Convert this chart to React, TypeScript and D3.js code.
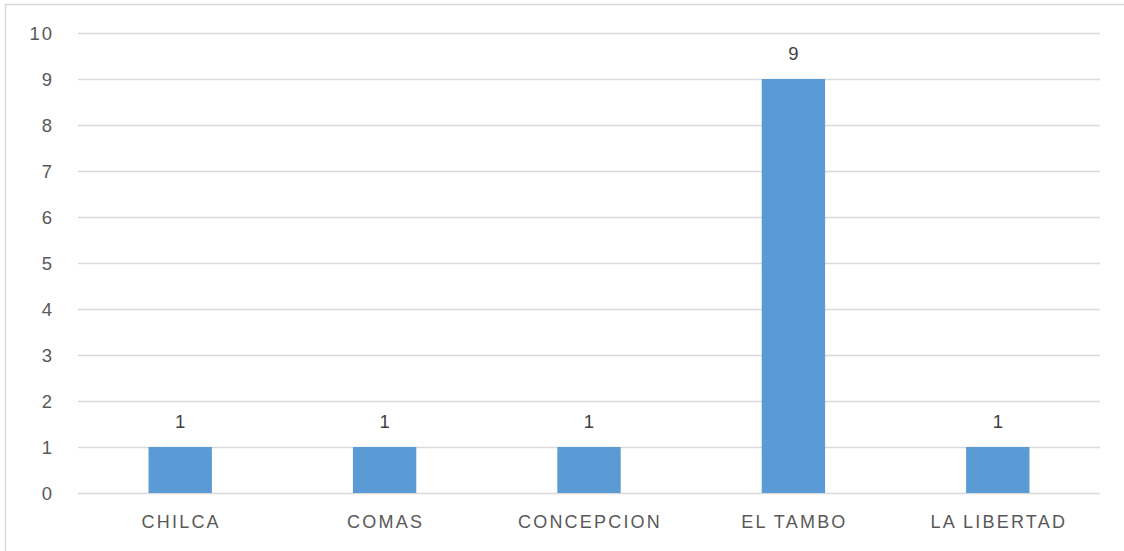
import { useEffect, useRef } from "react";
import * as d3 from "d3";

const categories = ["CHILCA", "COMAS", "CONCEPCION", "EL TAMBO", "LA LIBERTAD"];
const values = [1, 1, 1, 9, 1];
const yTicks = [0, 1, 2, 3, 4, 5, 6, 7, 8, 9, 10];

function App() {
  const ref = useRef<SVGSVGElement>(null);
  const width = 1124;
  const height = 551;
  const margin = { top: 33, right: 24, bottom: 58, left: 78 };

  useEffect(() => {
    const svg = d3.select(ref.current);
    svg.selectAll("*").remove();

    const font = "'Liberation Sans', Arial, sans-serif";
    const textColor = "#595959";

    // chart area border (only top and left visible in the crop)
    svg
      .append("rect")
      .attr("x", 5.5)
      .attr("y", 4.5)
      .attr("width", width + 20)
      .attr("height", height + 20)
      .attr("fill", "white")
      .attr("stroke", "#d9d9d9")
      .attr("stroke-width", 1.5);

    const x = d3
      .scaleBand()
      .domain(categories)
      .range([margin.left, width - margin.right])
      .paddingInner(0.69)
      .paddingOuter(0.345);

    const y = d3
      .scaleLinear()
      .domain([0, 10])
      .range([height - margin.bottom, margin.top]);

    // gridlines
    svg
      .append("g")
      .selectAll("line")
      .data(yTicks)
      .enter()
      .append("line")
      .attr("x1", margin.left)
      .attr("x2", width - margin.right)
      .attr("y1", (d) => Math.round(y(d)) + 0.5)
      .attr("y2", (d) => Math.round(y(d)) + 0.5)
      .attr("stroke", "#d9d9d9")
      .attr("stroke-width", 1.3);

    // y tick labels
    svg
      .append("g")
      .selectAll("text")
      .data(yTicks)
      .enter()
      .append("text")
      .attr("x", 54)
      .attr("y", (d) => y(d))
      .attr("dy", "0.36em")
      .attr("text-anchor", "end")
      .attr("font-family", font)
      .attr("font-size", 18.5)
      .attr("letter-spacing", 2)
      .attr("fill", textColor)
      .text((d) => d);

    // bars
    svg
      .append("g")
      .selectAll("rect")
      .data(values)
      .enter()
      .append("rect")
      .attr("x", (_, i) => x(categories[i]) as number)
      .attr("y", (d) => y(d))
      .attr("width", x.bandwidth())
      .attr("height", (d) => y(0) - y(d))
      .attr("fill", "#5b9bd5");

    // value labels
    svg
      .append("g")
      .selectAll("text")
      .data(values)
      .enter()
      .append("text")
      .attr("x", (_, i) => (x(categories[i]) as number) + x.bandwidth() / 2)
      .attr("y", (d) => y(d) - 26)
      .attr("dy", "0.36em")
      .attr("text-anchor", "middle")
      .attr("font-family", font)
      .attr("font-size", 18.5)
      .attr("fill", "#404040")
      .text((d) => d);

    // category labels
    svg
      .append("g")
      .selectAll("text")
      .data(categories)
      .enter()
      .append("text")
      .attr("x", (d) => (x(d) as number) + x.bandwidth() / 2 + 1)
      .attr("y", height - margin.bottom + 29)
      .attr("dy", "0.36em")
      .attr("text-anchor", "middle")
      .attr("font-family", font)
      .attr("font-size", 18)
      .attr("letter-spacing", 2.2)
      .attr("fill", textColor)
      .text((d) => d);
  }, []);

  return (
    <svg
      ref={ref}
      width={width}
      height={height}
      style={{ position: "absolute", left: 0, top: 0, background: "white" }}
    />
  );
}

export default App;
